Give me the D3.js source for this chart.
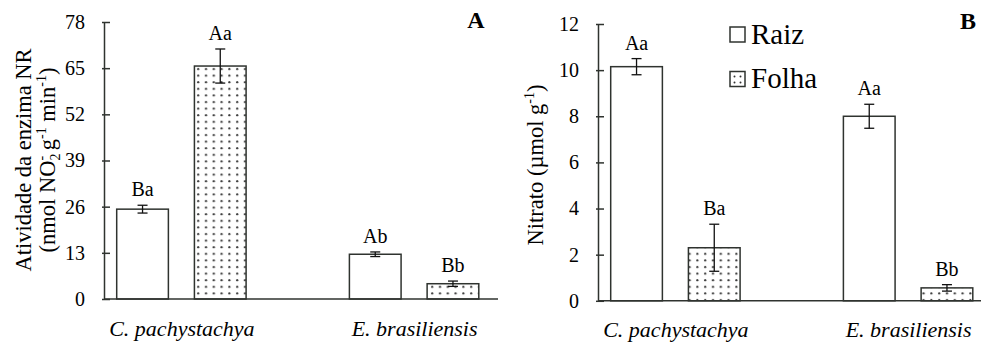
<!DOCTYPE html>
<html>
<head>
<meta charset="utf-8">
<script src="https://cdn.jsdelivr.net/npm/d3@7"></script>
<style>
  html, body { margin: 0; padding: 0; background: #fff; }
  svg { display: block; }
  text { font-family: "Liberation Serif", "Times New Roman", Times, serif; fill: #000; }
</style>
</head>
<body>
<svg id="chart" width="981" height="347"></svg>
<script>
// Species and tissues
const categories = ["C. pachystachya", "E. brasiliensis"];
const series = ["Raiz", "Folha"];

// Panel A: nitrate reductase activity (nmol NO2- g-1 min-1)
const nrRaiz = [25.3, 12.6];
const nrFolha = [65.6, 4.3];
const nrRaizErr = [1.1, 0.65];
const nrFolhaErr = [4.8, 0.75];
const nrRaizLetters = ["Ba", "Ab"];
const nrFolhaLetters = ["Aa", "Bb"];
const nrTicks = [0, 13, 26, 39, 52, 65, 78];

// Panel B: nitrate content (µmol g-1)
const nitRaiz = [10.15, 8.0];
const nitFolha = [2.3, 0.56];
const nitRaizErr = [0.35, 0.52];
const nitFolhaErr = [1.02, 0.14];
const nitRaizLetters = ["Aa", "Aa"];
const nitFolhaLetters = ["Ba", "Bb"];
const nitTicks = [0, 2, 4, 6, 8, 10, 12];

const INK = "#2f332f";
const FONT = "Liberation Serif, Times New Roman, serif";
const svg = d3.select("#chart");

// dotted fill used for leaf (Folha) bars
const defs = svg.append("defs");
const pat = defs.append("pattern")
  .attr("id", "dots")
  .attr("patternUnits", "userSpaceOnUse")
  .attr("width", 7.8).attr("height", 6.6);
pat.append("rect").attr("width", 7.8).attr("height", 6.6).attr("fill", "#fff");
pat.append("circle").attr("cx", 3.2).attr("cy", 3.0).attr("r", 1.1).attr("fill", "#3a3a3a");

const legendPat = defs.append("pattern")
  .attr("id", "dotsLegend")
  .attr("patternUnits", "userSpaceOnUse")
  .attr("x", 732).attr("y", 74)
  .attr("width", 6).attr("height", 6);
legendPat.append("rect").attr("width", 6).attr("height", 6).attr("fill", "#fff");
legendPat.append("circle").attr("cx", 2.5).attr("cy", 2.5).attr("r", 1).attr("fill", "#333");

function panel(opts) {
  const { axisX, xEnd, yTop, yZero, max, ticks, raiz, folha, raizErr, folhaErr,
          raizLetters, folhaLetters, panelLabel, labelX, labelY } = opts;

  const y = d3.scaleLinear().domain([0, max]).range([yZero, yTop]);
  const x = d3.scalePoint().domain(categories).range([axisX + 77.4, axisX + 310.1]);
  const xs = d3.scaleBand().domain(series).range([-64.7, 64.7]).paddingInner(0.335);

  const g = svg.append("g");

  const rows = [];
  categories.forEach((c, i) => {
    rows.push({ cat: c, s: "Raiz", v: raiz[i], e: raizErr[i], lab: raizLetters[i] });
    rows.push({ cat: c, s: "Folha", v: folha[i], e: folhaErr[i], lab: folhaLetters[i] });
  });
  const cx = d => x(d.cat) + xs(d.s) + xs.bandwidth() / 2;

  // bars
  g.selectAll("rect.bar").data(rows).join("rect")
    .attr("class", "bar")
    .attr("x", d => x(d.cat) + xs(d.s))
    .attr("width", xs.bandwidth())
    .attr("y", d => y(d.v))
    .attr("height", d => y(0) - y(d.v))
    .attr("fill", d => d.s === "Raiz" ? "#fff" : "url(#dots)")
    .attr("stroke", INK)
    .attr("stroke-width", 1.5);

  // error bars (mean ± SE)
  const cap = 5;
  const eb = g.selectAll("g.err").data(rows).join("g").attr("class", "err")
    .attr("stroke", "#111").attr("stroke-width", 1.3);
  eb.append("line")
    .attr("x1", cx).attr("x2", cx)
    .attr("y1", d => y(d.v + d.e)).attr("y2", d => y(d.v - d.e));
  eb.append("line")
    .attr("x1", d => cx(d) - cap).attr("x2", d => cx(d) + cap)
    .attr("y1", d => y(d.v + d.e)).attr("y2", d => y(d.v + d.e));
  eb.append("line")
    .attr("x1", d => cx(d) - cap).attr("x2", d => cx(d) + cap)
    .attr("y1", d => y(d.v - d.e)).attr("y2", d => y(d.v - d.e));

  // significance letters
  g.selectAll("text.letter").data(rows).join("text")
    .attr("class", "letter")
    .attr("x", cx)
    .attr("y", d => y(d.v + d.e) - 9)
    .attr("text-anchor", "middle")
    .attr("font-size", 20)
    .text(d => d.lab);

  // y axis
  const yAxis = g.append("g").attr("transform", `translate(${axisX},0)`)
    .call(d3.axisLeft(y).tickValues(ticks).tickSize(-6).tickSizeOuter(0).tickPadding(19));
  yAxis.attr("font-family", FONT);
  yAxis.select(".domain").attr("stroke", INK).attr("stroke-width", 1.5);
  yAxis.selectAll(".tick line").attr("x1", -2).attr("stroke", INK).attr("stroke-width", 1.5);
  yAxis.selectAll(".tick text")
    .attr("font-size", 20)
    .attr("fill", "#000");

  // x axis baseline
  g.append("line")
    .attr("x1", axisX).attr("x2", xEnd)
    .attr("y1", y(0)).attr("y2", y(0))
    .attr("stroke", INK).attr("stroke-width", 1.5);

  // category labels
  const xAxis = g.append("g").attr("transform", `translate(0,${y(0)})`)
    .call(d3.axisBottom(x).tickSize(0).tickPadding(21));
  xAxis.attr("font-family", FONT);
  xAxis.select(".domain").remove();
  xAxis.selectAll(".tick text")
    .attr("font-size", 22)
    .attr("font-style", "italic")
    .attr("fill", "#000");

  // panel letter
  g.append("text")
    .attr("x", labelX).attr("y", labelY)
    .attr("text-anchor", "middle")
    .attr("font-size", 24).attr("font-weight", "bold")
    .text(panelLabel);

  return g;
}

panel({
  axisX: 104, xEnd: 498, yTop: 22, yZero: 299, max: 78, ticks: nrTicks,
  raiz: nrRaiz, folha: nrFolha, raizErr: nrRaizErr, folhaErr: nrFolhaErr,
  raizLetters: nrRaizLetters, folhaLetters: nrFolhaLetters,
  panelLabel: "A", labelX: 476, labelY: 28
});

panel({
  axisX: 598, xEnd: 981, yTop: 24, yZero: 300.8, max: 12, ticks: nitTicks,
  raiz: nitRaiz, folha: nitFolha, raizErr: nitRaizErr, folhaErr: nitFolhaErr,
  raizLetters: nitRaizLetters, folhaLetters: nitFolhaLetters,
  panelLabel: "B", labelX: 968, labelY: 29
});

// y-axis titles
svg.append("text")
  .attr("transform", "translate(31,160) rotate(-90)")
  .attr("text-anchor", "middle").attr("font-size", 22.5)
  .text("Atividade da enzima NR");

const tA2 = svg.append("text")
  .attr("transform", "translate(55,160) rotate(-90)")
  .attr("text-anchor", "middle").attr("font-size", 22.5);
tA2.append("tspan").text("(nmol NO");
tA2.append("tspan").attr("font-size", 14).attr("dy", 5).text("2");
tA2.append("tspan").attr("font-size", 14).attr("dx", -7).attr("dy", -14).text("-");
tA2.append("tspan").attr("dy", 9).text(" g");
tA2.append("tspan").attr("font-size", 14).attr("dy", -9).text("-1");
tA2.append("tspan").attr("dy", 9).text(" min");
tA2.append("tspan").attr("font-size", 14).attr("dy", -9).text("-1");
tA2.append("tspan").attr("dy", 9).text(")");

const tB = svg.append("text")
  .attr("transform", "translate(543,165) rotate(-90)")
  .attr("text-anchor", "middle").attr("font-size", 22.5);
tB.append("tspan").text("Nitrato (µmol g");
tB.append("tspan").attr("font-size", 14).attr("dy", -9).text("-1");
tB.append("tspan").attr("dy", 9).text(")");

// legend
const legend = svg.append("g");
const legendY = d3.scalePoint().domain(series).range([34.5, 79]);
legend.selectAll("rect").data(series).join("rect")
  .attr("x", 730).attr("y", d => legendY(d) - 7.5)
  .attr("width", 15).attr("height", 15)
  .attr("fill", d => d === "Raiz" ? "#fff" : "url(#dotsLegend)")
  .attr("stroke", INK).attr("stroke-width", 1.5);
legend.selectAll("text").data(series).join("text")
  .attr("x", 751).attr("y", d => legendY(d) + 9)
  .attr("font-size", 29)
  .text(d => d);
</script>
</body>
</html>
